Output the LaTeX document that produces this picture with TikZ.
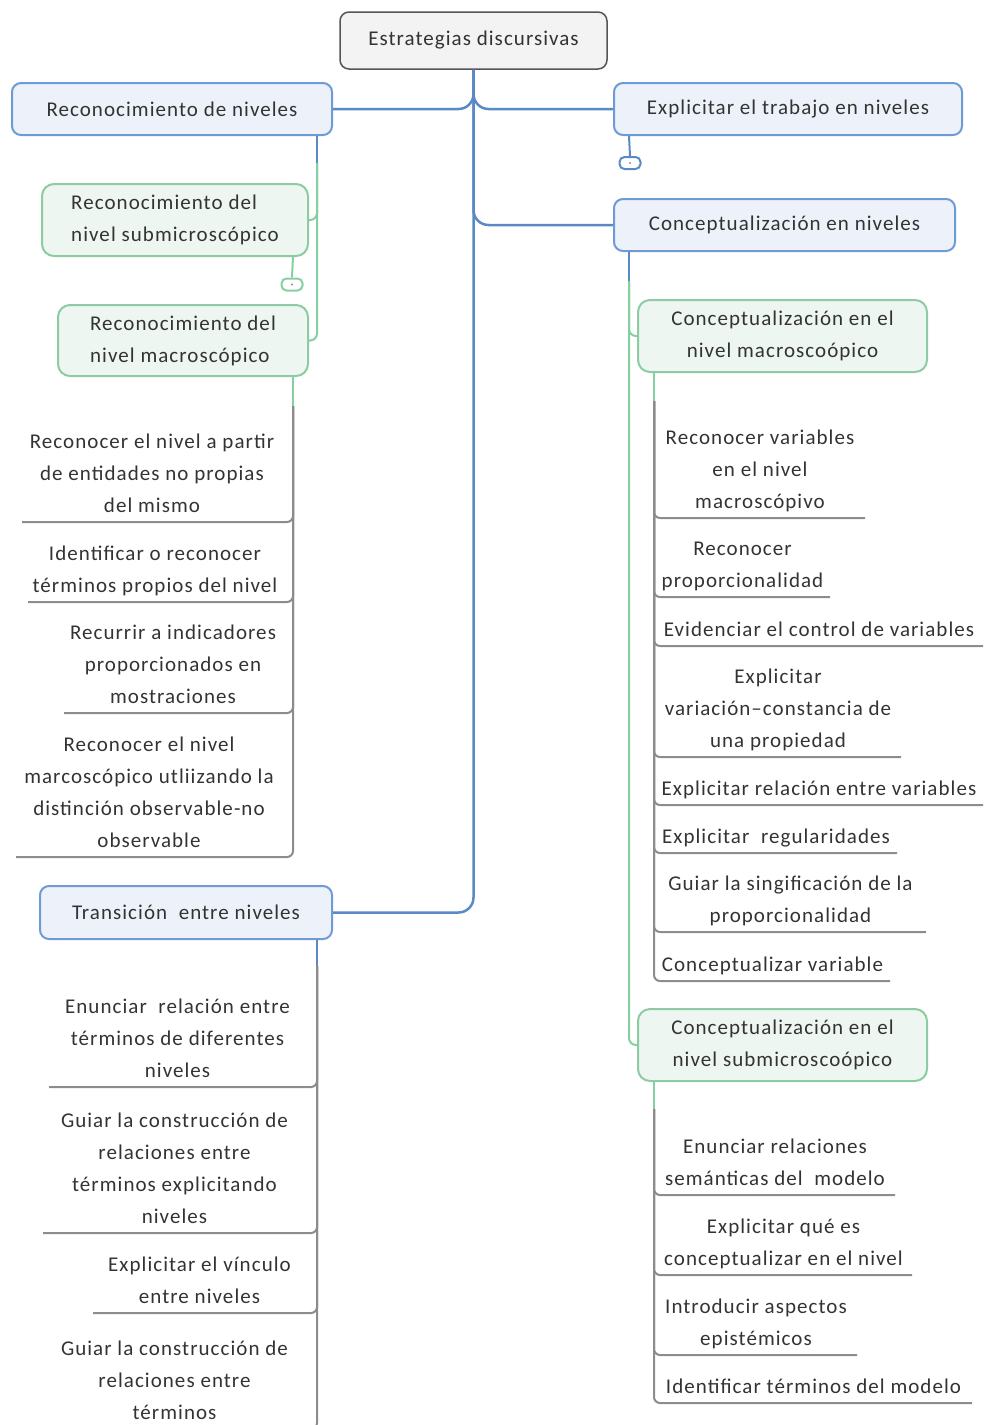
\documentclass[tikz,border=0pt]{standalone}
\usepackage{fontspec}
\setmainfont{Carlito}[LetterSpace=5]
\usetikzlibrary{calc}

\definecolor{wireblue}{HTML}{5A8AC6}
\definecolor{boxblue}{HTML}{6E9BD6}
\definecolor{fillblue}{HTML}{EDF2FA}
\definecolor{wiregreen}{HTML}{86CFA0}
\definecolor{boxgreen}{HTML}{8DCBA3}
\definecolor{fillgreen}{HTML}{EEF6F1}
\definecolor{wiregray}{HTML}{8C8C8C}
\definecolor{inktext}{HTML}{333333}
\definecolor{rootfill}{HTML}{F3F3F3}
\definecolor{rootline}{HTML}{555555}

\tikzset{
  every node/.style={font=\fontsize{21}{32}\selectfont, text=inktext},
  rootbox/.style={draw=rootline, fill=rootfill, rounded corners=9, line width=1.5},
  bluebox/.style={draw=boxblue, fill=fillblue, rounded corners=9, line width=2},
  greenbox/.style={draw=boxgreen, fill=fillgreen, rounded corners=12, line width=2, align=center},
  leafnode/.style={inner xsep=0, inner ysep=5, outer sep=0, text depth=5pt, align=center},
  leafL/.style={leafnode, anchor=south east},
  leafR/.style={leafnode, anchor=south west},
  trunk/.style={draw=wireblue, line width=2.5, rounded corners=15},
  bluewire/.style={draw=wireblue, line width=2},
  greenwire/.style={draw=wiregreen, line width=2, rounded corners=7},
  graywire/.style={draw=wiregray, line width=2, rounded corners=6},
  pillblue/.style={draw=wireblue, line width=2, rounded corners=5, minimum width=21, minimum height=12, inner sep=0},
  pillgreen/.style={draw=wiregreen, line width=2, rounded corners=5, minimum width=21, minimum height=12, inner sep=0},
}

\begin{document}
\begin{tikzpicture}[x=1pt, y=-1pt]
\useasboundingbox (0,0) rectangle (992,1425);
\clip (0,0) rectangle (992,1425);

% ---------- main topics ----------
\node[rootbox, minimum width=267, minimum height=57] (root) at (473.5,40.5) {Estrategias discursivas};
\node[bluebox, minimum width=320, minimum height=52] (rec) at (172,109) {Reconocimiento de niveles};
\node[bluebox, minimum width=348, minimum height=52] (expl) at (788,109) {Explicitar el trabajo en niveles};
\node[bluebox, minimum width=341, minimum height=52] (conc) at (784.5,225) {Conceptualización en niveles};
\node[bluebox, minimum width=292, minimum height=53] (trans) at (186,912.5) {Transición~ entre niveles};

\draw[trunk] (root.south) |- (rec.east);
\draw[trunk] (root.south) |- (expl.west);
\draw[trunk] (root.south) |- (conc.west);
\draw[trunk] (root.south) |- (trans.east);

% ---------- Explicitar: collapsed ----------
\coordinate (explstem) at ($(expl.south west)+(16,0)$);
\node[pillblue] (explpill) at (630,163) {};
\draw[bluewire] (explstem) -- (explpill.north);
\fill[wiregray] (explpill.center) circle (1.2);

% ---------- Reconocimiento de niveles ----------
\node[greenbox, minimum width=266, minimum height=72, align=left] (rsub) at (175,220) {Reconocimiento del\\nivel submicroscópico};
\node[greenbox, minimum width=250, minimum height=71, align=left] (rmac) at (183,340.5) {Reconocimiento del\\nivel macroscópico};

\coordinate (recstem) at ($(rec.south east)+(-16,0)$);
\coordinate (recsplit) at ($(recstem)+(0,27)$);
\draw[bluewire] (recstem) -- (recsplit);
\draw[greenwire] (recsplit) |- (rsub.east);
\draw[greenwire] (recsplit) |- (rmac.east);

\coordinate (rsubstem) at ($(rsub.south east)+(-16,0)$);
\node[pillgreen] (rsubpill) at (292,284.5) {};
\draw[greenwire] (rsubstem) -- (rsubpill.north);
\fill[wiregray] (rsubpill.center) circle (1.2);

% leaves of the macroscopic level
\coordinate (rmacstem) at ($(rmac.south east)+(-16,0)$);
\coordinate (rmacsplit) at ($(rmacstem)+(0,29)$);
\draw[greenwire] (rmacstem) -- (rmacsplit);

\node[leafL, minimum width=260] (l1) at (282,522) {Reconocer el nivel a partir\\de entidades no propias\\del mismo};
\node[leafL, minimum width=254] (l2) at (282,602) {Identificar o reconocer\\términos propios del nivel};
\node[leafL, minimum width=218] (l3) at (282,713) {Recurrir a indicadores\\proporcionados en\\mostraciones};
\node[leafL, minimum width=266] (l4) at (282,857) {Reconocer el nivel\\marcoscópico utliizando la\\distinción observable-no\\observable};
\foreach \n in {l1,l2,l3,l4}
  \draw[graywire] (rmacsplit) |- (\n.south west);

% ---------- Conceptualización en niveles ----------
\node[greenbox, minimum width=289, minimum height=72] (cmac) at (782.5,336) {Conceptualización en el\\nivel macroscoópico};
\node[greenbox, minimum width=289, minimum height=72] (csub) at (782.5,1045) {Conceptualización en el\\nivel submicroscoópico};

\coordinate (concstem) at ($(conc.south west)+(16,0)$);
\coordinate (concsplit) at ($(concstem)+(0,29)$);
\draw[bluewire] (concstem) -- (concsplit);
\draw[greenwire] (concsplit) |- (cmac.west);
\draw[greenwire] (concsplit) |- (csub.west);

% leaves of the macroscopic level
\coordinate (cmacstem) at ($(cmac.south west)+(17,0)$);
\coordinate (cmacsplit) at ($(cmacstem)+(0,28)$);
\draw[greenwire] (cmacstem) -- (cmacsplit);

\node[leafR, minimum width=210] (m1) at (655,518) {Reconocer variables\\en el nivel\\macroscópivo};
\node[leafR, minimum width=175] (m2) at (655,597) {Reconocer\\proporcionalidad};
\node[leafR, minimum width=328] (m3) at (655,646) {Evidenciar el control de variables};
\node[leafR, minimum width=246] (m4) at (655,757) {Explicitar\\variación–constancia de\\una propiedad};
\node[leafR, minimum width=328] (m5) at (655,805) {Explicitar relación entre variables};
\node[leafR, minimum width=242] (m6) at (655,853) {Explicitar~ regularidades};
\node[leafR, minimum width=271] (m7) at (655,932) {Guiar la singificación de la\\proporcionalidad};
\node[leafR, minimum width=235] (m8) at (655,981) {Conceptualizar variable};
\foreach \n in {m1,m2,m3,m4,m5,m6,m7,m8}
  \draw[graywire] (cmacsplit) |- (\n.south east);

% leaves of the submicroscopic level
\coordinate (csubstem) at ($(csub.south west)+(17,0)$);
\coordinate (csubsplit) at ($(csubstem)+(0,27)$);
\draw[greenwire] (csubstem) -- (csubsplit);

\node[leafR, minimum width=240] (s1) at (655,1195) {Enunciar relaciones\\semánticas del~ modelo};
\node[leafR, minimum width=257] (s2) at (655,1275) {Explicitar qué es\\conceptualizar en el nivel};
\node[leafR, minimum width=202] (s3) at (655,1355) {Introducir aspectos\\epistémicos};
\node[leafR, minimum width=317] (s4) at (655,1403) {Identificar términos del modelo};
\foreach \n in {s1,s2,s3,s4}
  \draw[graywire] (csubsplit) |- (\n.south east);

% ---------- Transición entre niveles ----------
\coordinate (transstem) at ($(trans.south east)+(-16,0)$);
\coordinate (transsplit) at ($(transstem)+(0,26)$);
\draw[bluewire] (transstem) -- (transsplit);

\node[leafL, minimum width=257] (t1) at (306,1087) {Enunciar~ relación entre\\términos de diferentes\\niveles};
\node[leafL, minimum width=263] (t2) at (306,1233) {Guiar la construcción de\\relaciones entre\\términos explicitando\\niveles};
\node[leafL, minimum width=213] (t3) at (306,1313) {Explicitar el vínculo\\entre niveles};
\node[leafL, minimum width=263] (t4) at (306,1429) {Guiar la construcción de\\relaciones entre\\términos};
\foreach \n in {t1,t2,t3,t4}
  \draw[graywire] (transsplit) |- (\n.south west);

\end{tikzpicture}
\end{document}
